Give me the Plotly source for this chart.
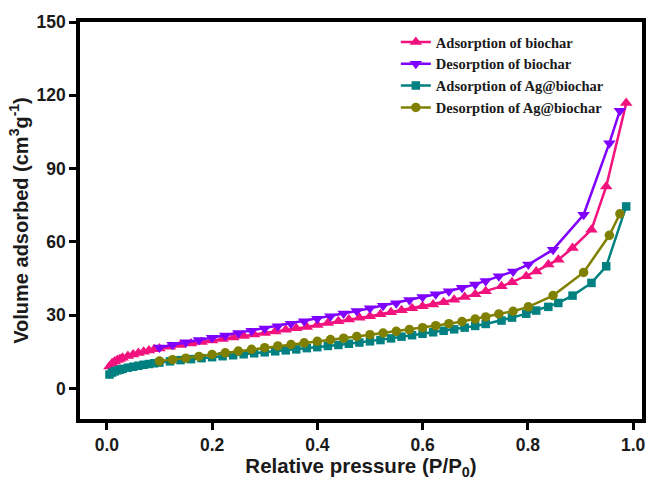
import plotly.graph_objects as go

# N2 sorption isotherms: biochar and Ag@biochar
ads_x = [0.005, 0.01, 0.015, 0.02, 0.025, 0.03, 0.04, 0.05, 0.06, 0.07, 0.08, 0.09, 0.10,
         0.12, 0.14, 0.16, 0.18, 0.20, 0.22, 0.24, 0.26, 0.28, 0.30, 0.32, 0.34, 0.36,
         0.38, 0.40, 0.42, 0.44, 0.46, 0.48, 0.50, 0.52, 0.54, 0.56, 0.58, 0.60, 0.62,
         0.64, 0.66, 0.68, 0.70, 0.72, 0.75, 0.77, 0.797, 0.816, 0.839, 0.858, 0.885,
         0.921, 0.949, 0.987]

ads_biochar = [9.0, 10.3, 11.0, 11.6, 12.1, 12.6, 13.3, 13.9, 14.5, 15.0, 15.5, 16.0, 16.4,
               17.1, 17.8, 18.4, 19.0, 19.6, 20.2, 20.9, 21.5, 22.1, 22.7, 23.3, 24.0, 24.6,
               25.2, 26.0, 26.8, 27.5, 28.2, 28.9, 29.6, 30.4, 31.2, 32.0, 32.8, 33.6, 34.4,
               35.3, 36.3, 37.4, 38.6, 39.8, 41.8, 43.5, 45.9, 47.9, 50.7, 52.7, 57.5,
               65.0, 82.7, 116.8]

ads_ag = [5.7, 6.5, 7.0, 7.4, 7.7, 8.0, 8.5, 8.9, 9.3, 9.7, 10.0, 10.3, 10.6,
          11.1, 11.6, 12.0, 12.4, 12.8, 13.2, 13.6, 14.0, 14.4, 14.8, 15.2, 15.6, 16.0,
          16.5, 16.9, 17.4, 17.8, 18.3, 18.8, 19.3, 19.8, 20.5, 21.2, 21.8, 22.4, 23.0,
          23.6, 24.2, 24.9, 25.6, 26.4, 27.8, 29.0, 30.6, 31.9, 33.4, 35.0, 38.0,
          43.2, 50.0, 74.5]

des_x = [0.975, 0.955, 0.906, 0.848, 0.801, 0.772, 0.745, 0.72, 0.70, 0.675, 0.65, 0.625,
         0.60, 0.575, 0.55, 0.525, 0.50, 0.475, 0.45, 0.425, 0.40, 0.375, 0.35, 0.325,
         0.30, 0.275, 0.25, 0.225, 0.20, 0.175, 0.15, 0.125, 0.10]

des_biochar = [113.7, 100.4, 71.1, 56.8, 50.7, 47.9, 45.9, 44.0, 42.6, 41.2, 39.8, 38.6,
               37.4, 36.2, 34.9, 33.9, 32.8, 31.7, 30.7, 29.6, 28.5, 27.5, 26.5, 25.5,
               24.5, 23.6, 22.7, 21.7, 20.8, 19.8, 18.9, 17.9, 16.8]

des_ag = [71.5, 62.7, 47.5, 38.0, 33.4, 31.6, 30.5, 29.3, 28.4, 27.4, 26.5, 25.7,
          24.9, 24.1, 23.4, 22.7, 22.0, 21.3, 20.6, 20.0, 19.3, 18.7, 18.0, 17.4,
          16.7, 16.0, 15.3, 14.6, 13.9, 13.1, 12.4, 11.8, 11.2]

x_ticks = [0.0, 0.2, 0.4, 0.6, 0.8, 1.0]
y_ticks = [0, 30, 60, 90, 120, 150]

series = [
    ("Adsorption of biochar", ads_x, ads_biochar, "#F2127E", "triangle-up", 11),
    ("Desorption of biochar", des_x, des_biochar, "#8000FF", "triangle-down", 11),
    ("Adsorption of Ag@biochar", ads_x, ads_ag, "#008080", "square", 8.5),
    ("Desorption of Ag@biochar", des_x, des_ag, "#808000", "circle", 9.5),
]

fig = go.Figure()
for name, xs, ys, color, symbol, size in series:
    fig.add_trace(go.Scatter(
        x=xs, y=ys, name=name, mode="lines+markers",
        line=dict(color=color, width=2.5),
        marker=dict(symbol=symbol, size=size, color=color, line=dict(width=0)),
    ))

axis_common = dict(
    showgrid=False, zeroline=False,
    showline=True, linecolor="black", linewidth=3.5, mirror=True,
    ticks="outside", ticklen=7, tickwidth=3, tickcolor="black",
    tickfont=dict(family="Arial", size=17.5, color="#1a1a1a", weight="bold"),
)

fig.update_xaxes(
    range=[-0.051, 1.017], tickvals=x_ticks, ticktext=[f"{v:.1f}" for v in x_ticks],
    title=dict(text="Relative pressure (P/P<sub>0</sub>)", standoff=6,
               font=dict(family="Arial", size=20.5, color="#1a1a1a", weight="bold")),
    **axis_common,
)
fig.update_yaxes(
    range=[-12.5, 150], tickvals=y_ticks, ticktext=[str(v) for v in y_ticks],
    title=dict(text="Volume adsorbed (cm<sup>3</sup>g<sup>-1</sup>)", standoff=4,
               font=dict(family="Arial", size=20, color="#1a1a1a", weight="bold")),
    **axis_common,
)

fig.update_layout(
    width=651, height=480,
    margin=dict(l=80, r=5, t=22, b=60),
    paper_bgcolor="white", plot_bgcolor="white",
    legend=dict(
        x=0.562, y=0.99, xanchor="left", yanchor="top",
        bgcolor="rgba(0,0,0,0)", borderwidth=0,
        font=dict(family="Liberation Serif", size=14.5, color="#1a1a1a", weight="bold"),
        itemwidth=30, tracegroupgap=0,
    ),
)

fig.write_html("out.html")
